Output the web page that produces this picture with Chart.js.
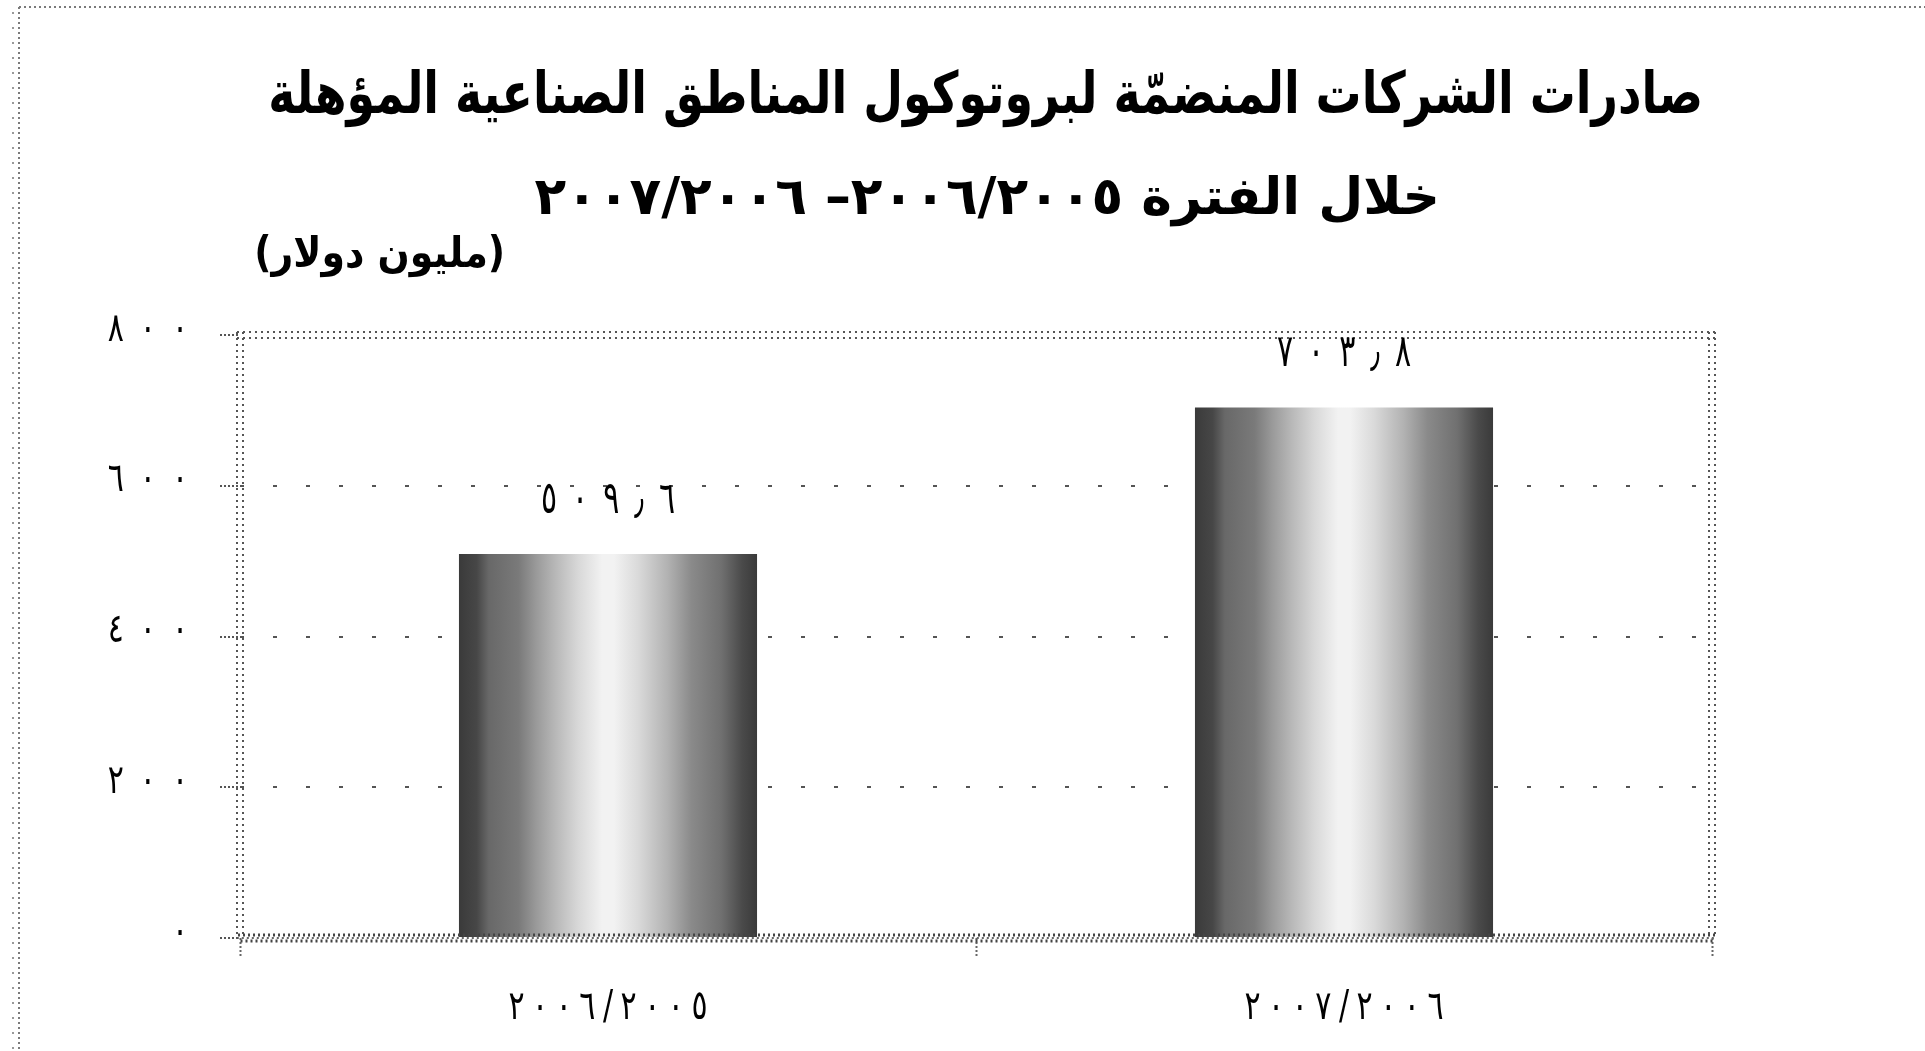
<!DOCTYPE html>
<html lang="ar" dir="ltr">
<head>
<meta charset="utf-8">
<title>صادرات الشركات المنضمّة لبروتوكول المناطق الصناعية المؤهلة</title>
<script src="https://cdn.jsdelivr.net/npm/chart.js@4.4.1/dist/chart.umd.min.js"></script>
<style>
  html, body { margin: 0; padding: 0; background: #fff; overflow: hidden; }
  #qizChart { display: block; }
</style>
</head>
<body>
<canvas id="qizChart" width="1925" height="1051" dir="ltr"></canvas>
<script>
// Exports of companies joined to the QIZ protocol (million US$)
const categories = ['٢٠٠٦/٢٠٠٥', '٢٠٠٧/٢٠٠٦'];
const exportValues = [509.6, 703.8];
const yTickValues = [0, 200, 400, 600, 800];

const titleText = 'صادرات الشركات المنضمّة لبروتوكول المناطق الصناعية المؤهلة';
const subtitleText = 'خلال الفترة ٢٠٠٦/٢٠٠٥– ٢٠٠٧/٢٠٠٦';
const unitText = '(مليون دولار)';

const FONT = '"DejaVu Sans", "Noto Sans", sans-serif';
const AR_DIGITS = '٠١٢٣٤٥٦٧٨٩';
const BAR_PCT = 0.405;

// Grey shading across a bar, dark at the edges and pale in the middle
const barShade = [
  [0.00, '#3a3a3a'], [0.06, '#474747'], [0.10, '#686868'], [0.20, '#7a7a7a'],
  [0.26, '#9a9a9a'], [0.32, '#b6b6b6'], [0.40, '#d8d8d8'], [0.48, '#f2f2f2'],
  [0.52, '#f2f2f2'], [0.60, '#dadada'], [0.70, '#b2b2b2'], [0.78, '#8a8a8a'],
  [0.88, '#707070'], [0.95, '#4a4a4a'], [1.00, '#3a3a3a']
];

function toArabicDigits(n) {
  return String(n).replace(/\d/g, d => AR_DIGITS[+d]).replace('.', '٫');
}

// Draw a line of text fitted into a box, stretched vertically to the box height
function drawFitted(ctx, text, box, weight) {
  ctx.save();
  ctx.font = `${weight} 40px ${FONT}`;
  let m = ctx.measureText(text);
  const w0 = m.actualBoundingBoxLeft + m.actualBoundingBoxRight;
  const size = 40 * box.w / w0;
  ctx.font = `${weight} ${size}px ${FONT}`;
  ctx.textAlign = 'center';
  ctx.textBaseline = 'alphabetic';
  m = ctx.measureText(text);
  const asc = m.actualBoundingBoxAscent, desc = m.actualBoundingBoxDescent;
  const sy = box.h / (asc + desc);
  const dx = (m.actualBoundingBoxLeft - m.actualBoundingBoxRight) / 2;
  ctx.fillStyle = '#000';
  ctx.translate(box.cx, box.cy);
  ctx.scale(1, sy);
  ctx.fillText(text, dx, (asc - desc) / 2);
  ctx.restore();
}

// Numerals drawn glyph by glyph with wide tracking and a tall aspect
function drawSpaced(ctx, text, x, y, align, spacing, sy, size) {
  ctx.save();
  ctx.font = `${size}px ${FONT}`;
  ctx.fillStyle = '#000';
  ctx.textAlign = 'left';
  ctx.textBaseline = 'middle';
  const chars = Array.from(text);
  const widths = chars.map(ch => ctx.measureText(ch).width);
  const total = widths.reduce((s, w) => s + w, 0) + spacing * (chars.length - 1);
  let pos = align === 'right' ? x - total : align === 'center' ? x - total / 2 : x;
  ctx.translate(0, y);
  ctx.scale(1, sy);
  chars.forEach((ch, i) => {
    ctx.fillText(ch, pos, 0);
    pos += widths[i] + spacing;
  });
  ctx.restore();
}

function dottedLine(ctx, x1, y1, x2, y2, dash, width, color, offset) {
  ctx.save();
  ctx.strokeStyle = color;
  ctx.lineWidth = width;
  ctx.setLineDash(dash);
  ctx.lineDashOffset = offset || 0;
  ctx.beginPath();
  ctx.moveTo(x1, y1);
  ctx.lineTo(x2, y2);
  ctx.stroke();
  ctx.restore();
}

const decorPlugin = {
  id: 'decor',
  beforeDraw(chart) {
    const ctx = chart.ctx;
    ctx.save();
    ctx.fillStyle = '#fff';
    ctx.fillRect(0, 0, chart.width, chart.height);
    ctx.restore();
    // outer dotted frame of the chart object
    dottedLine(ctx, 19, 7, chart.width, 7, [2, 3], 2, '#7a7a7a');
    dottedLine(ctx, 19, 7, 19, chart.height, [2, 3], 2, '#7a7a7a');
    dottedLine(ctx, 13, 12, 13, chart.height, [2, 13], 2, '#9a9a9a');
  },
  beforeDatasetsDraw(chart) {
    const ctx = chart.ctx;
    const a = chart.chartArea;
    // double dotted plot frame
    [-3, 3].forEach(o => {
      dottedLine(ctx, a.left - 3, a.top + o, a.right + 3, a.top + o, [2, 4], 2, '#555');
      dottedLine(ctx, a.left + o, a.top - 3, a.left + o, a.bottom, [2, 4], 2, '#555');
      dottedLine(ctx, a.right + o, a.top - 3, a.right + o, a.bottom, [2, 4], 2, '#555');
    });
  },
  afterDatasetsDraw(chart) {
    const ctx = chart.ctx;
    const a = chart.chartArea;
    // cross-hatched category axis line
    dottedLine(ctx, a.left - 2, a.bottom - 3, a.right + 3, a.bottom - 3, [2, 3], 3, '#444', 0);
    dottedLine(ctx, a.left - 2, a.bottom + 3, a.right + 3, a.bottom + 3, [2, 3], 3, '#444', 2.5);
    dottedLine(ctx, a.left - 2, a.bottom, a.right + 3, a.bottom, [2, 3], 2, '#666', 1.2);

    // value labels above the bars
    const meta = chart.getDatasetMeta(0);
    meta.data.forEach((bar, i) => {
      drawSpaced(ctx, toArabicDigits(exportValues[i]), bar.x, bar.y - 53, 'center', 15, 1.5, 30);
    });
  },
  afterDraw(chart) {
    const ctx = chart.ctx;
    const xs = chart.scales.x, ys = chart.scales.y;
    // value axis labels
    ys.ticks.forEach(t => {
      drawSpaced(ctx, toArabicDigits(t.value), 188, ys.getPixelForValue(t.value) - 5, 'right', 16, 1.35, 30);
    });
    // category labels
    xs.getLabels().forEach((lab, i) => {
      drawSpaced(ctx, lab, xs.getPixelForTick(i), chart.chartArea.bottom + 70, 'center', 7.5, 1.35, 30);
    });
    // titles
    drawFitted(ctx, titleText, { cx: 985, cy: 98, w: 1430, h: 58 }, 'bold');
    drawFitted(ctx, subtitleText, { cx: 985, cy: 201, w: 902, h: 52 }, 'bold');
    drawFitted(ctx, unitText, { cx: 380, cy: 256, w: 245, h: 42 }, 'bold');
  }
};

function barGradient(c) {
  const chart = c.chart;
  const xs = chart.scales.x;
  if (!chart.chartArea || !xs || c.type !== 'data') return '#999';
  const cx = xs.getPixelForValue(c.dataIndex);
  const half = xs.width / categories.length * BAR_PCT / 2;
  const g = chart.ctx.createLinearGradient(cx - half, 0, cx + half, 0);
  barShade.forEach(([p, col]) => g.addColorStop(p, col));
  return g;
}

new Chart(document.getElementById('qizChart'), {
  type: 'bar',
  data: {
    labels: categories,
    datasets: [{
      data: exportValues,
      backgroundColor: barGradient,
      borderWidth: 0,
      barPercentage: BAR_PCT,
      categoryPercentage: 1
    }]
  },
  plugins: [decorPlugin],
  options: {
    responsive: false,
    animation: false,
    devicePixelRatio: 1,
    layout: { padding: { top: 335, left: 0, right: 213, bottom: 0 } },
    plugins: {
      legend: { display: false },
      tooltip: { enabled: false },
      title: { display: false }
    },
    scales: {
      x: {
        afterFit(scale) { scale.height = 113; },
        border: { display: false },
        grid: {
          offset: true,
          drawOnChartArea: false,
          drawTicks: true,
          tickLength: 19,
          tickWidth: 2,
          tickColor: '#666',
          tickBorderDash: [2, 2]
        },
        ticks: { display: false }
      },
      y: {
        min: 0,
        max: 800,
        afterFit(scale) { scale.width = 240; },
        afterBuildTicks(scale) { scale.ticks = yTickValues.map(v => ({ value: v })); },
        border: { display: false, dash: [4, 29] },
        grid: {
          color: c => (c.tick && (c.tick.value === 0 || c.tick.value === 800)) ? 'rgba(0,0,0,0)' : '#555',
          lineWidth: 2,
          drawTicks: true,
          tickLength: 20,
          tickWidth: 2,
          tickColor: '#555',
          tickBorderDash: [2, 2]
        },
        ticks: { display: false }
      }
    }
  }
});
</script>
</body>
</html>
